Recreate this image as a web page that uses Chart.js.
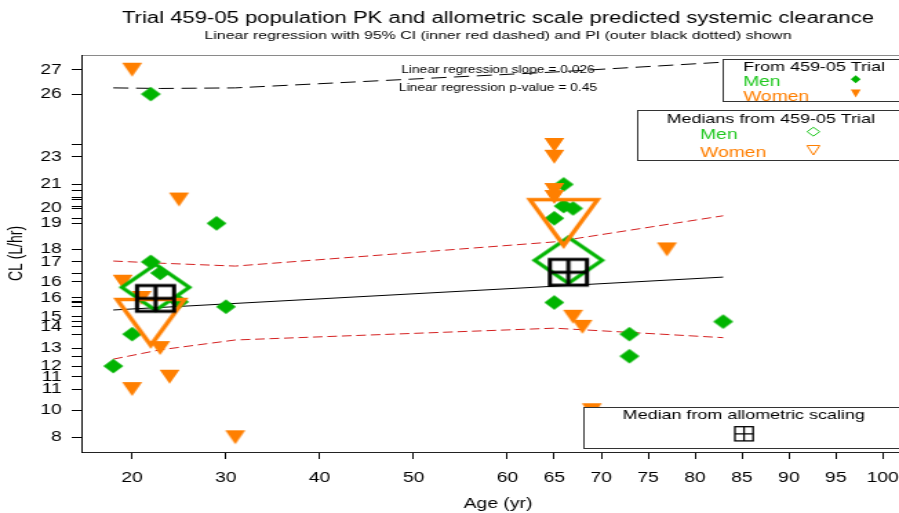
<!DOCTYPE html>
<html>
<head>
<meta charset="utf-8">
<script src="https://cdn.jsdelivr.net/npm/chart.js@4.4.1/dist/chart.umd.min.js"></script>
<style>
html,body{margin:0;padding:0;background:#fff;overflow:hidden;}
#wrap{width:899px;height:513px;overflow:hidden;position:relative;background:#fff;}
#c{position:absolute;left:0;top:0;display:block;transform:scaleX(1.378834);transform-origin:0 0;}
</style>
</head>
<body>
<div id="wrap"><canvas id="c" width="663" height="513"></canvas></div>
<script>
// ---------------- data ----------------
const TITLE = 'Trial 459-05 population PK and allometric scale predicted systemic clearance';
const SUBTITLE = 'Linear regression with 95% CI (inner red dashed) and PI (outer black dotted) shown';
const NOTE_SLOPE = 'Linear regression slope = 0.026';
const NOTE_P = 'Linear regression p-value = 0.45';

const xTicks = [20, 30, 40, 50, 60, 65, 70, 75, 80, 85, 90, 95, 100];

const menAge = [18, 20, 22, 22, 23, 25, 29, 30, 66, 66, 67, 65, 65, 73, 73, 83];
const menCL  = [12.03, 13.68, 26.09, 17.42, 16.84, 15.35, 19.41, 15.10, 21.42, 20.30, 20.18, 19.67, 15.32, 13.68, 12.54, 14.33];

const womenAge = [20, 19, 21, 23, 24, 20, 25, 31, 65, 65, 65, 65, 67, 68, 69, 77];
const womenCL  = [27.35, 16.39, 15.55, 12.96, 11.48, 10.84, 20.64, 8.35, 23.46, 22.85, 21.13, 20.77, 14.58, 14.06, 9.75, 18.06];

const menMedAge = [22.5, 66.5];
const menMedCL  = [16.10, 17.50];
const womenMedAge = [22, 66];
const womenMedCL  = [14.26, 19.42];
const allomAge = [22.5, 66.5];
const allomCL  = [15.53, 16.88];

const regAge = [18, 83];
const regCL  = [14.93, 16.63];
const ciAge   = [18, 23, 31, 65, 83];
const ciUpper = [17.46, 17.35, 17.20, 18.45, 19.80];
const ciLower = [12.39, 12.87, 13.38, 13.99, 13.50];
const piAge   = [18, 23, 31, 65, 83];
const piUpper = [26.41, 26.38, 26.41, 27.23, 27.74];

// y-axis rug: every observed CL value gets a tick; these ones carry a (rounded) label
const yLabeled = [8.35, 9.75, 10.84, 11.48, 12.03, 12.96, 14.06, 14.58, 15.55, 16.39, 17.42, 18.06, 19.41, 20.18, 21.42, 22.85, 26.09, 27.35];

// ---------------- styling ----------------
const GREEN = '#00B400', ORANGE = '#FF7F00', LGREEN = '#1EC81E';
const X_MIN = 14.72, X_MAX = 103.28, Y_MIN = 7.59, Y_MAX = 28.11;
const FONT = "'Liberation Sans', Arial, sans-serif";

Chart.defaults.font.family = FONT;
Chart.defaults.color = '#000';

function mk(w, h, fn) {
  const c = document.createElement('canvas');
  c.width = w; c.height = h;
  const g = c.getContext('2d');
  fn(g, w / 2, h / 2);
  return c;
}
function diamondPath(g, cx, cy, hw, hh) {
  g.beginPath(); g.moveTo(cx, cy - hh); g.lineTo(cx + hw, cy); g.lineTo(cx, cy + hh); g.lineTo(cx - hw, cy); g.closePath();
}
function triPath(g, cx, topY, hw, botY) {
  g.beginPath(); g.moveTo(cx - hw, topY); g.lineTo(cx + hw, topY); g.lineTo(cx, botY); g.closePath();
}
function allomPath(g, cx, cy, hw, hh) {
  g.strokeRect(cx - hw, cy - hh, 2 * hw, 2 * hh);
  g.beginPath(); g.moveTo(cx, cy - hh); g.lineTo(cx, cy + hh); g.moveTo(cx - hw, cy); g.lineTo(cx + hw, cy); g.stroke();
}

const styleDiamond = mk(16, 16, (g, cx, cy) => { g.fillStyle = GREEN; diamondPath(g, cx, cy, 7.25, 7.35); g.fill(); });
const styleTri = mk(16, 16, (g, cx, cy) => { g.fillStyle = ORANGE; triPath(g, cx, cy - 7, 7.25, cy + 7); g.fill(); });
const styleMedDiamond = mk(60, 56, (g, cx, cy) => { g.strokeStyle = GREEN; g.lineWidth = 3.2; diamondPath(g, cx, cy, 24.5, 23); g.stroke(); });
const styleMedTri = mk(60, 60, (g, cx, cy) => { g.strokeStyle = ORANGE; g.lineWidth = 3.4; triPath(g, cx, cy - 23.5, 24.5, cy + 22.4); g.stroke(); });
const styleAllom = mk(34, 32, (g, cx, cy) => { g.strokeStyle = '#000'; g.lineWidth = 3; allomPath(g, cx, cy, 13.4, 12.9); });

const pts = (xs, ys) => xs.map((x, i) => ({ x: x, y: ys[i] }));
const allY = menCL.concat(womenCL).slice().sort((a, b) => a - b);

// ---------------- legends & notes ----------------
const overlay = {
  id: 'overlay',
  afterDraw(chart) {
    const ctx = chart.ctx;
    const a = chart.chartArea;
    const cx = (a.left + a.right) / 2;
    ctx.save();
    ctx.textBaseline = 'middle';
    ctx.textAlign = 'center';
    ctx.fillStyle = '#000';
    ctx.font = '10px ' + FONT;
    ctx.fillText(NOTE_SLOPE, cx, 70.5);
    ctx.fillText(NOTE_P, cx, 88);

    function box(x1, y1, x2, y2, draw) {
      ctx.save();
      ctx.fillStyle = '#fff';
      ctx.fillRect(x1, y1, x2 - x1, y2 - y1);
      ctx.beginPath(); ctx.rect(x1, y1, x2 - x1, y2 - y1); ctx.clip();
      draw();
      ctx.restore();
      ctx.strokeStyle = '#333'; ctx.lineWidth = 1;
      ctx.strokeRect(Math.round(x1) + 0.5, Math.round(y1) + 0.5, x2 - x1, Math.round(y2 - y1));
    }
    const right = a.right - 4;
    box(523.6, 59, right, 101, () => {
      ctx.textAlign = 'center'; ctx.fillStyle = '#000'; ctx.font = '13px ' + FONT;
      ctx.fillText('From 459-05 Trial', 590.4, 67.5);
      ctx.textAlign = 'left'; ctx.font = '14px ' + FONT;
      ctx.fillStyle = LGREEN; ctx.fillText('Men', 538.9, 82);
      ctx.fillStyle = ORANGE; ctx.fillText('Women', 538.9, 97);
      ctx.fillStyle = GREEN; diamondPath(ctx, 620.6, 79.3, 3.6, 4); ctx.fill();
      ctx.fillStyle = ORANGE; triPath(ctx, 620.6, 89.5, 3.6, 97.5); ctx.fill();
    });
    box(462, 110, right, 160, () => {
      ctx.textAlign = 'center'; ctx.fillStyle = '#000'; ctx.font = '13px ' + FONT;
      ctx.fillText('Medians from 459-05 Trial', 559, 119);
      ctx.textAlign = 'left'; ctx.font = '14px ' + FONT;
      ctx.fillStyle = LGREEN; ctx.fillText('Men', 507.7, 135.3);
      ctx.fillStyle = ORANGE; ctx.fillText('Women', 507.7, 153);
      ctx.lineWidth = 1;
      ctx.strokeStyle = LGREEN; diamondPath(ctx, 589.9, 131.7, 4.6, 4.4); ctx.stroke();
      ctx.strokeStyle = ORANGE; triPath(ctx, 589.9, 145.5, 4.6, 155); ctx.stroke();
    });
    box(423, 407.3, right, 448.3, () => {
      ctx.textAlign = 'center'; ctx.fillStyle = '#000'; ctx.font = '13px ' + FONT;
      ctx.fillText('Median from allometric scaling', 539.4, 415.5);
      ctx.strokeStyle = '#000'; ctx.lineWidth = 1.3;
      allomPath(ctx, 539.6, 433.8, 6.6, 7.1);
    });
    ctx.restore();
  }
};

new Chart(document.getElementById('c'), {
  type: 'scatter',
  data: {
    datasets: [
      { label: 'Median from allometric scaling', data: pts(allomAge, allomCL), pointStyle: styleAllom, pointRadius: 1, pointHoverRadius: 1, order: 0 },
      { label: 'Women median', data: pts(womenMedAge, womenMedCL), pointStyle: styleMedTri, pointRadius: 1, pointHoverRadius: 1, order: 1 },
      { label: 'Men median', data: pts(menMedAge, menMedCL), pointStyle: styleMedDiamond, pointRadius: 1, pointHoverRadius: 1, order: 2 },
      { label: 'Women', data: pts(womenAge, womenCL), pointStyle: styleTri, pointRadius: 1, pointHoverRadius: 1, order: 3 },
      { label: 'Men', data: pts(menAge, menCL), pointStyle: styleDiamond, pointRadius: 1, pointHoverRadius: 1, order: 4 },
      { label: 'Linear regression', data: pts(regAge, regCL), showLine: true, borderColor: '#000', borderWidth: 1, pointRadius: 0, pointHoverRadius: 0, tension: 0, order: 5 },
      { label: '95% CI upper', data: pts(ciAge, ciUpper), showLine: true, borderColor: '#D42020', borderWidth: 1, borderDash: [7, 3.5], pointRadius: 0, pointHoverRadius: 0, tension: 0, order: 6 },
      { label: '95% CI lower', data: pts(ciAge, ciLower), showLine: true, borderColor: '#D42020', borderWidth: 1, borderDash: [7, 3.5], pointRadius: 0, pointHoverRadius: 0, tension: 0, order: 7 },
      { label: 'PI upper', data: pts(piAge, piUpper), showLine: true, borderColor: '#000', borderWidth: 1, borderDash: [11, 5.5], pointRadius: 0, pointHoverRadius: 0, tension: 0, order: 8 }
    ]
  },
  options: {
    responsive: false,
    animation: false,
    devicePixelRatio: 1,
    events: [],
    layout: { autoPadding: false, padding: { left: 0, right: 0.5, top: 0, bottom: 0 } },
    plugins: {
      legend: { display: false },
      tooltip: { enabled: false },
      title: { display: true, text: TITLE, fullSize: false, color: '#000',
               font: { size: 16, weight: 'normal', lineHeight: 1.2 }, padding: { top: 9.4, bottom: 0 } },
      subtitle: { display: true, text: SUBTITLE, fullSize: false, color: '#000',
                  font: { size: 11.5, weight: 'normal', lineHeight: 1.2 }, padding: { top: 0.5, bottom: 0 } }
    },
    scales: {
      x: {
        type: 'linear', position: 'bottom', min: X_MIN, max: X_MAX,
        afterBuildTicks: s => { s.ticks = xTicks.map(v => ({ value: v })); },
        afterFit: s => { s.height = 61; s.paddingLeft = 0; s.paddingRight = 0; },
        ticks: { autoSkip: false, maxRotation: 0, padding: 10.6, color: '#000', font: { size: 14 }, callback: v => String(v) },
        grid: { display: true, drawOnChartArea: false, drawTicks: true, tickLength: 7, tickColor: '#000', color: '#000' },
        border: { display: true, color: '#222', width: 1 },
        title: { display: true, text: 'Age (yr)', color: '#000', font: { size: 14 }, padding: { top: 0, bottom: 0 } }
      },
      xTop: {
        type: 'linear', position: 'top', min: X_MIN, max: X_MAX,
        afterFit: s => { s.height = 12.1; },
        ticks: { display: false },
        grid: { display: false, drawTicks: false },
        border: { display: true, color: '#8a8a8a', width: 1 }
      },
      y: {
        type: 'linear', position: 'left', min: Y_MIN, max: Y_MAX,
        afterBuildTicks: s => { s.ticks = allY.map(v => ({ value: v })); },
        afterFit: s => { s.width = 59.83; },
        ticks: { autoSkip: false, padding: 7.3, color: '#000', font: { size: 14 },
                 callback: v => (yLabeled.includes(v) ? String(Math.round(v)) : '') },
        grid: { display: true, drawOnChartArea: false, drawTicks: true, tickLength: 7.8, tickColor: '#000', color: '#000' },
        border: { display: true, color: '#000', width: 1 },
        title: { display: true, text: 'CL (L/hr)', color: '#000', font: { size: 14 }, padding: { top: 3.9, bottom: 0 } }
      }
    }
  },
  plugins: [overlay]
});
</script>
</body>
</html>
